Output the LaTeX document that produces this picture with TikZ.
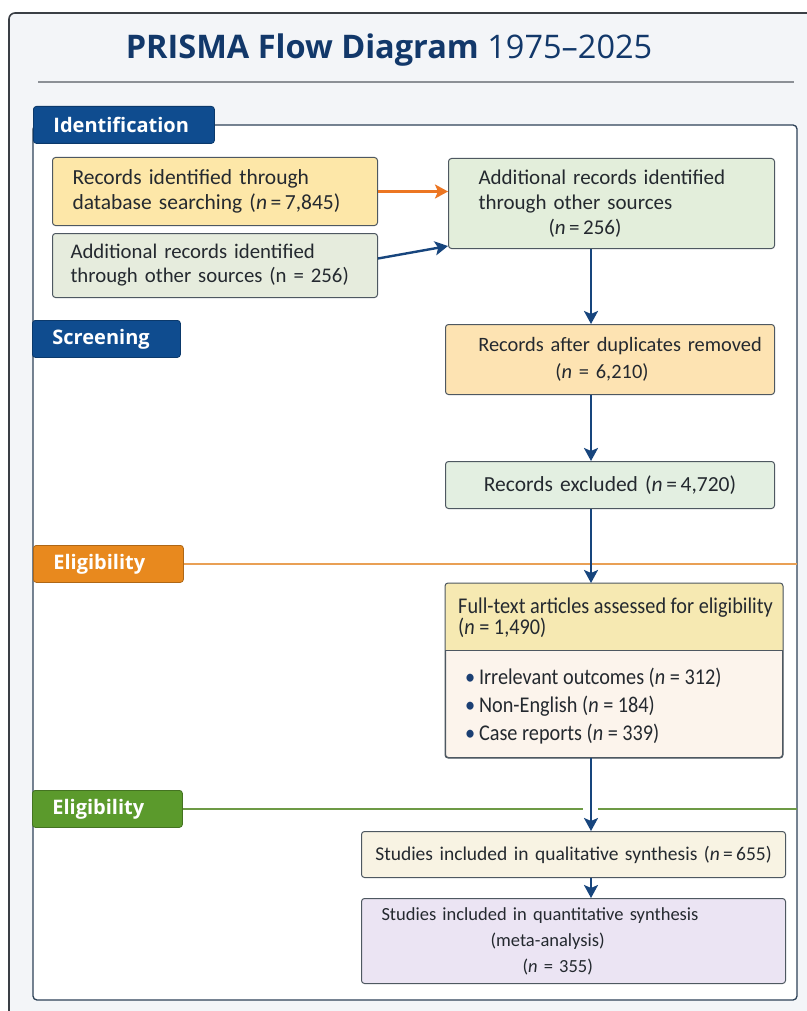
\documentclass[tikz,border=0pt]{standalone}
\usepackage{fontspec}
\setmainfont{Carlito}
\newfontfamily\headfont{Open Sans}
\newfontfamily\narrowfont[FakeStretch=0.9]{Carlito}
\usetikzlibrary{arrows.meta, positioning, calc}
\definecolor{pagebg}{HTML}{F3F5F8}
\definecolor{framegray}{HTML}{3A3F45}
\definecolor{titlenavy}{HTML}{12386A}
\definecolor{rulegray}{HTML}{8C9096}
\definecolor{panelnavy}{HTML}{2E4258}
\definecolor{tabnavy}{HTML}{0F4C8F}
\definecolor{tabgold}{HTML}{E8891E}
\definecolor{tabgreen}{HTML}{5B9A2C}
\definecolor{goldline}{HTML}{E9A055}
\definecolor{greenline}{HTML}{6D9A45}
\definecolor{boxline}{HTML}{4E5861}
\definecolor{fillyellow}{HTML}{FDE7A8}
\definecolor{fillsage}{HTML}{E6ECDD}
\definecolor{fillmint}{HTML}{E3EEDB}
\definecolor{fillpeach}{HTML}{FDE3B2}
\definecolor{fillmintb}{HTML}{E3EFE1}
\definecolor{fttop}{HTML}{F6E9B2}
\definecolor{ftlow}{HTML}{FCF4EC}
\definecolor{fillcream}{HTML}{F8F3E3}
\definecolor{filllav}{HTML}{EBE4F3}
\definecolor{inkdark}{HTML}{24292F}
\definecolor{arrownavy}{HTML}{17457D}
\definecolor{arroworange}{HTML}{EC7622}
\definecolor{dotnavy}{HTML}{1B3F73}

\begin{document}
\begin{tikzpicture}[x=1pt, y=-1pt,
    box/.style={draw=boxline, line width=1pt, rounded corners=3pt, anchor=north west,
      inner ysep=0pt, text=inkdark, font=\fontsize{21}{25}\selectfont},
    phasetab/.style={draw=#1!75!black, fill=#1, line width=0.8pt, rounded corners=3pt,
      anchor=north west, text=white, font=\headfont\fontsize{20}{24}\selectfont\bfseries,
      inner xsep=20pt, inner ysep=0pt, minimum height=37pt, align=left},
    flow/.style={draw=arrownavy, line width=2.4pt, -{Stealth[length=13pt, width=14pt, inset=3pt]}},
    ftext/.style={anchor=north west, inner sep=0pt, align=left, text=inkdark}
  ]
  \useasboundingbox (0,0) rectangle (806,1011);
  % Rahmen und Titel
  \draw[framegray, line width=1.6pt, fill=pagebg, rounded corners=6pt] (9,13) rectangle (840,1040);
  \node[font=\headfont\fontsize{32.5}{36}\selectfont, text=titlenavy] (title) at (389,50)
    {\textbf{PRISMA Flow Diagram} 1975–2025};
  \draw[rulegray, line width=1.2pt] (38,82) -- (794,82);
  \draw[panelnavy, line width=1.3pt, fill=white, rounded corners=4pt] (33,125) rectangle (797,1000);
  \coordinate (panelR) at (797,0);
  \coordinate (spine) at (591,0);

  % Phasen
  \node[phasetab=tabnavy, text width=141pt] (identtab) at (33,106) {Identification};
  \node[phasetab=tabnavy, text width=108pt] (screentab) at (32,320) {Screening};
  \node[phasetab=tabgold, text width=110pt] (eligtab) at (33,545) {Eligibility};
  \node[phasetab=tabgreen, text width=110pt] (incltab) at (32,790) {Eligibility};
  \draw[goldline, line width=1.4pt] (eligtab.east) -- (eligtab.east -| panelR);
  \draw[greenline, line width=1.4pt] (incltab.east) -- ($(incltab.east -| spine)+(-8,0)$);
  \draw[greenline, line width=1.4pt] ($(incltab.east -| spine)+(7,0)$) -- (incltab.east -| panelR);

  % Kaesten
  \node[box, fill=fillyellow, minimum height=68pt, text width=285pt, inner xsep=20pt, align=left,
    font=\fontsize{21.5}{25}\selectfont] (dbsearch) at (52,157)
    {Records identified through\\database searching (\textit{n}\,=\,7,845)};
  \node[box, fill=fillsage, minimum height=64pt, text width=289pt, inner xsep=18pt, align=left,
    font=\fontsize{20.8}{24}\selectfont] (othersrc) at (52,233)
    {Additional records identified\\through other sources (n = 256)};
  \node[box, fill=fillmint, minimum height=90pt, text width=266pt, inner xsep=30pt, align=left] (combined) at (448,158)
    {Additional records identified\\through other sources\\\hspace*{70pt}(\textit{n}\,=\,256)};
  \node[box, fill=fillpeach, minimum height=70pt, text width=309pt, inner xsep=10pt, align=center,
    font=\fontsize{20.4}{27}\selectfont] (dedup) at (445,324)
    {\hspace*{20pt}Records after duplicates removed\\(\textit{n} = 6,210)\hspace*{16pt}};
  \node[box, fill=fillmintb, minimum height=47pt, text width=309pt, inner xsep=10pt, align=center,
    font=\fontsize{21.5}{25}\selectfont] (excluded) at (445,461)
    {Records excluded (\textit{n}\,=\,4,720)};

  % Volltext mit Ausschlussgruenden
  \node[box, fill=ftlow, minimum width=337pt, minimum height=174pt, inner sep=0pt] (fulltext) at (445,583) {};
  \fill[fttop] ($(fulltext.north west)+(0,67)$) [rounded corners=3pt] -- (fulltext.north west)
    -- (fulltext.north east) [sharp corners] -- ($(fulltext.north east)+(0,67)$) -- cycle;
  \draw[boxline, line width=0.8pt] ($(fulltext.north west)+(0,67)$) -- ($(fulltext.north east)+(0,67)$);
  \draw[boxline, line width=1pt, rounded corners=3pt] (fulltext.north west) rectangle (fulltext.south east);
  \node[ftext, font=\narrowfont\fontsize{22.5}{21}\selectfont] (fthead) at ($(fulltext.north west)+(13,15)$)
    {Full-text articles assessed for eligibility\\(\textit{n} = 1,490)};
  \node[ftext, font=\narrowfont\fontsize{22.5}{28}\selectfont] (ftreasons) at ($(fulltext.north west)+(20,85)$)
    {\textcolor{dotnavy}{\textbullet}\,Irrelevant outcomes (\textit{n} = 312)\\
     \textcolor{dotnavy}{\textbullet}\,Non-English (\textit{n} = 184)\\
     \textcolor{dotnavy}{\textbullet}\,Case reports (\textit{n} = 339)};

  \node[box, fill=fillcream, minimum height=46pt, text width=404pt, inner xsep=10pt, align=center,
    font=\fontsize{19.5}{24}\selectfont] (qualsyn) at (361,831)
    {Studies included in qualitative synthesis (\textit{n}\,=\,655)};
  \node[box, fill=filllav, minimum height=85pt, text width=384pt, inner xsep=20pt, align=left,
    font=\fontsize{18.5}{26}\selectfont] (quantsyn) at (361,898)
    {Studies included in quantitative synthesis\\\hspace*{109pt}(meta-analysis)\\\hspace*{141pt}(\textit{n} = 355)};

  % Pfeile
  \draw[flow, draw=arroworange] (dbsearch.east) -- (dbsearch.east -| combined.west);
  \draw[flow] ($(othersrc.east)+(0,-7)$) -- ($(combined.south west)+(0,-3)$);
  \draw[flow] (combined.south -| spine) -- (dedup.north -| spine);
  \draw[flow] (dedup.south -| spine) -- (excluded.north -| spine);
  \draw[flow] (excluded.south -| spine) -- (fulltext.north -| spine);
  \draw[flow] (fulltext.south -| spine) -- (qualsyn.north -| spine);
  \draw[flow] (qualsyn.south -| spine) -- (quantsyn.north -| spine);
\end{tikzpicture}
\end{document}
